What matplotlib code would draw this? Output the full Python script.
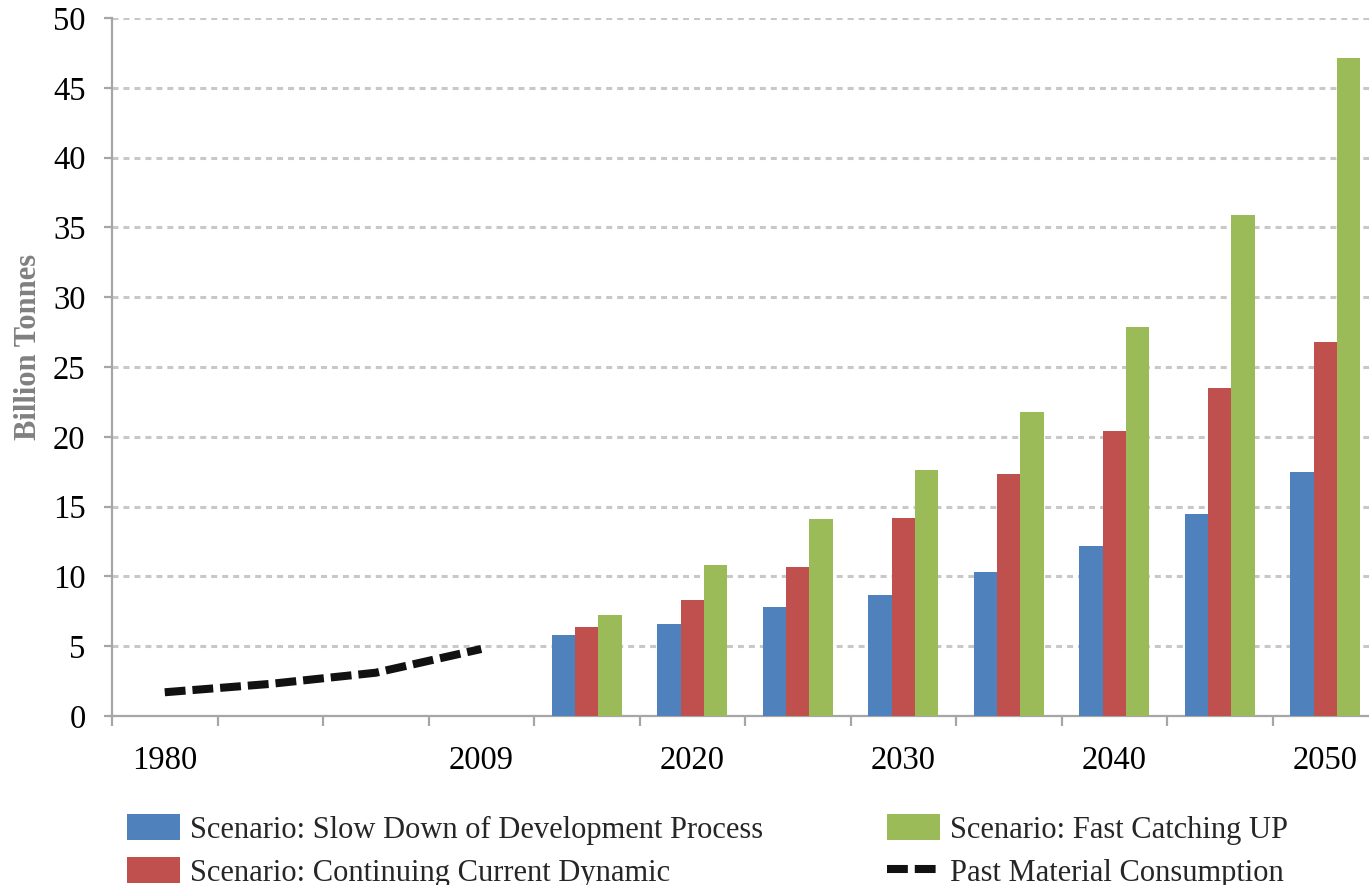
import numpy as np
import matplotlib
matplotlib.use('Agg')
import matplotlib.pyplot as plt

plt.rcParams['font.family'] = ['Liberation Serif', 'DejaVu Serif']
plt.rcParams['lines.scale_dashes'] = False

# x categories (only some are labelled on the axis)
tick_labels = ['1980', '', '', '2009', '', '2020', '', '2030', '', '2040', '', '2050']

# historical consumption, first four categories
past_consumption = [1.7, 2.3, 3.1, 4.8]

# scenario projections, last eight categories
slow_down = [5.8, 6.6, 7.8, 8.7, 10.3, 12.2, 14.5, 17.5]
continuing = [6.4, 8.3, 10.7, 14.2, 17.3, 20.4, 23.5, 26.8]
fast_catching = [7.2, 10.8, 14.1, 17.6, 21.8, 27.9, 35.9, 47.1]

series_names = ['Scenario: Slow Down of Development Process',
                'Scenario: Continuing Current Dynamic',
                'Scenario: Fast Catching UP',
                'Past Material Consumption']
colors = ['#4F81BD', '#C0504D', '#9BBB59']

W, H = 1369, 885
fig = plt.figure(figsize=(W / 100, H / 100), dpi=100)
ax = fig.add_axes([112 / W, (H - 716) / H, 1266 / W, 698 / H])

x_all = np.arange(len(tick_labels))
x_past = x_all[:len(past_consumption)]
x_proj = x_all[len(tick_labels) - len(slow_down):]

bw = 0.22
h_slow = ax.bar(x_proj - bw, slow_down, bw, color=colors[0], zorder=3)
h_cont = ax.bar(x_proj, continuing, bw, color=colors[1], zorder=3)
h_fast = ax.bar(x_proj + bw, fast_catching, bw, color=colors[2], zorder=3)
h_past, = ax.plot(x_past, past_consumption, color='#111111', lw=5.8,
                  linestyle=(0, (15, 5)), zorder=4)

ax.set_xlim(-0.5, len(tick_labels) - 0.5)
ax.set_ylim(0, 50)
ax.set_yticks(np.arange(0, 51, 5))
ax.set_xticks(x_all)
ax.set_xticklabels(tick_labels)
ax.set_xticks(np.arange(-0.5, len(tick_labels)), minor=True)

ax.grid(axis='y', color='#c8c8c8', lw=2.2, linestyle=(0, (4.3, 3.6)), zorder=0)
for s in ['top', 'right']:
    ax.spines[s].set_visible(False)
for s in ['left', 'bottom']:
    ax.spines[s].set_color('#a6a6a6')
    ax.spines[s].set_linewidth(1.6)

ax.tick_params(axis='y', length=6, width=1.6, color='#a6a6a6', pad=13,
               labelsize=23.5, labelcolor='black')
ax.tick_params(axis='x', which='major', length=0, pad=21, labelsize=23.5)
ax.tick_params(axis='x', which='minor', length=7, width=1.6, color='#a6a6a6')

fig.text(28 / W, 1 - 347 / H, 'Billion Tonnes', rotation=90, ha='center', va='center',
         fontsize=22, fontweight='bold', color='#808080')

# two columns: slow / continuing on the left, fast / past on the right
fig.legend([h_slow, h_cont, h_fast, h_past], series_names,
           loc='upper left', bbox_to_anchor=(127 / W, 1 - 814 / H), ncol=2,
           frameon=False, fontsize=22, borderpad=0, borderaxespad=0,
           handlelength=1.73, handleheight=0.95, handletextpad=0.33,
           columnspacing=4.05, labelspacing=0.4, labelcolor='#262626')

fig.savefig('out.png', dpi=100)
